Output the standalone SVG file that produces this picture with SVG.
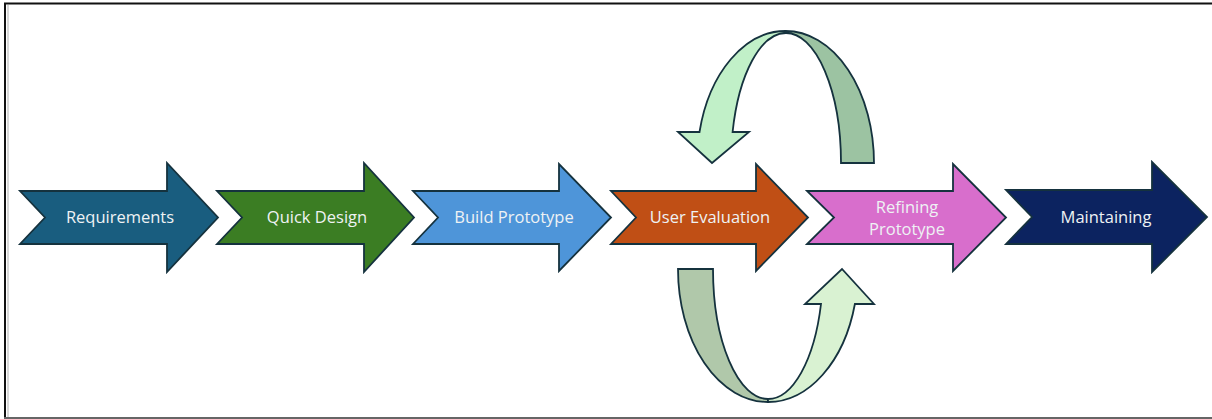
<svg xmlns="http://www.w3.org/2000/svg" width="1212" height="419" viewBox="0 0 1212 419">
<style>
.stage{stroke:#15323e;stroke-width:1.8;stroke-linejoin:miter}
.lbl{font-family:"Open Sans","Noto Sans","Liberation Sans",sans-serif;font-size:16.5px;fill:#eef2f4;text-anchor:middle}
.loop{stroke:#15323e;stroke-width:1.8;stroke-linejoin:miter}
</style>
<rect width="1212" height="419" fill="#ffffff"/>
<g id="frame">
<line x1="4" y1="3.5" x2="1212" y2="3.5" stroke="#111" stroke-width="2"/>
<line x1="5" y1="3" x2="5" y2="419" stroke="#111" stroke-width="2"/>
<line x1="8" y1="5" x2="8" y2="419" stroke="#d8d8d8" stroke-width="2"/>
<line x1="4" y1="418" x2="1212" y2="418" stroke="#666" stroke-width="2"/>
</g>
<g id="connectors">
<path class="loop" fill="#c1f0c8" d="M699.5,132 A88.5 132 0 0 1 785.5,31 L786,33 A55 130 0 0 0 732.6,132 L749,132 L712,163 L678,132 Z"/>
<path class="loop" fill="#9cc3a2" d="M785.5,31 A88.5 132 0 0 1 874,163 L841,163 A55 130 0 0 0 786,33 Z"/>
<path class="loop" fill="#b0c8aa" d="M678,269 L713,269 A55 130 0 0 0 768,399 L768,402 A90 133 0 0 1 678,269 Z"/>
<path class="loop" fill="#d9f2d2" d="M768,402 A90 133 0 0 0 854.9,304 L874,304 L842,269 L805,304 L821,304 A55 130 0 0 1 768,399 Z"/>
</g>
<g id="requirements">
<path class="stage" fill="#195d7f" d="M20,191 L167,191 L167,163 L218,217.5 L167,272 L167,244 L20,244 L45,217.5 Z"/>
<text class="lbl" x="120" y="223">Requirements</text>
</g>
<g id="quick-design">
<path class="stage" fill="#3b7d23" d="M217,191 L364,191 L364,163 L414,217.5 L364,272 L364,244 L217,244 L242,217.5 Z"/>
<text class="lbl" x="317" y="223">Quick Design</text>
</g>
<g id="build-prototype">
<path class="stage" fill="#4e95d9" d="M413,191 L559,191 L559,164 L611,217.5 L559,271 L559,244 L413,244 L438,217.5 Z"/>
<text class="lbl" x="514" y="223">Build Prototype</text>
</g>
<g id="user-evaluation">
<path class="stage" fill="#c04f15" d="M611,191 L756,191 L756,164 L808,217.5 L756,271 L756,244 L611,244 L636,217.5 Z"/>
<text class="lbl" x="710" y="223">User Evaluation</text>
</g>
<g id="refining-prototype">
<path class="stage" fill="#d86ecc" d="M807,191 L953,191 L953,164 L1006,217.5 L953,271 L953,244 L807,244 L834,217.5 Z"/>
<text class="lbl" x="907" y="213">Refining</text>
<text class="lbl" x="907" y="235">Prototype</text>
</g>
<g id="maintaining">
<path class="stage" fill="#0c2360" d="M1006,190 L1152,190 L1152,162 L1207,217 L1152,272 L1152,244 L1006,244 L1032,217 Z"/>
<text class="lbl" x="1106" y="223">Maintaining</text>
</g>
</svg>
